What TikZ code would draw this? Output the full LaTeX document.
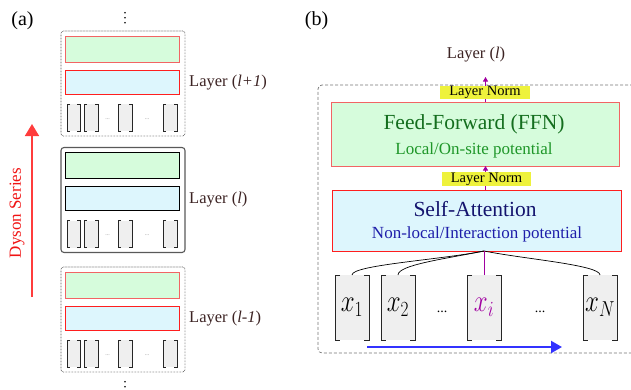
\documentclass[tikz,border=0pt]{standalone}
\usepackage{fontspec}
\setmainfont{Liberation Serif}
\usepackage{graphicx}
\usetikzlibrary{arrows.meta}
\definecolor{gfill}{RGB}{214,252,220}
\definecolor{bfill}{RGB}{221,246,253}
\definecolor{lred}{RGB}{242,100,100}
\definecolor{sred}{RGB}{255,30,30}
\definecolor{inputgrey}{RGB}{239,239,239}
\definecolor{lnyellow}{RGB}{238,242,60}
\definecolor{purp}{RGB}{160,0,160}
\definecolor{arrowblue}{RGB}{50,50,255}
\definecolor{dysonred}{RGB}{255,60,60}
\definecolor{dysontext}{RGB}{240,20,20}
\definecolor{labelcol}{RGB}{60,35,35}
\definecolor{ffngreen}{RGB}{20,110,30}
\definecolor{locgreen}{RGB}{30,150,40}
\definecolor{sanavy}{RGB}{20,20,110}
\definecolor{sablue}{RGB}{30,30,170}
\newcommand\fs[1]{\fontsize{#1}{#1}\selectfont}
\tikzset{
  box/.style={draw, outer sep=0pt, inner sep=0pt},
  brkbox/.style={fill=inputgrey, outer sep=0pt, inner sep=0pt},
  brkline/.style={black!85, line width=1pt},
  dotframe/.style={draw=black!65, dash pattern=on 0.6pt off 0.9pt, rounded corners=2.5pt, line width=0.8pt},
  solidframe/.style={draw=black!65, rounded corners=3pt, line width=1.1pt},
  lredborder/.style={draw=lred, line width=1pt},
  sredborder/.style={draw=sred, line width=0.9pt},
  blackborder/.style={draw=black, line width=0.9pt},
  labelA/.style={text=labelcol, font=\fs{16.5}, inner sep=0pt},
  dotsA/.style={text=black!45, font=\fs{6}, inner sep=0pt},
  parrow/.style={draw=purp, line width=0.9pt, -{Triangle[width=5pt,length=4.5pt]}},
  curveline/.style={draw=black, line width=0.7pt},
  lnbox/.style={fill=lnyellow, minimum height=13pt, inner sep=0pt, font=\fs{14.5}},
}
\newcommand\smallbrk[1]{%
  \draw[brkline] ([xshift=3pt]#1.north west) -- (#1.north west) -- (#1.south west) -- ([xshift=3pt]#1.south west);
  \draw[brkline] ([xshift=-3pt]#1.north east) -- (#1.north east) -- (#1.south east) -- ([xshift=-3pt]#1.south east);}
\newcommand\bigbrk[1]{%
  \draw[brkline] ([xshift=5pt]#1.north west) -- (#1.north west) -- (#1.south west) -- ([xshift=5pt]#1.south west);
  \draw[brkline] ([xshift=-5pt]#1.north east) -- (#1.north east) -- (#1.south east) -- ([xshift=-5pt]#1.south east);}
\newcommand\layerA[6]{%
  \begin{scope}[shift={(0,#1)}]
    \node[box,#2,minimum width=124pt,minimum height=105pt] (#5frame) at (123,52.5) {};
    \node[box,#3,fill=gfill,minimum width=114pt,minimum height=26pt] (#5ffn) at (122,18) {};
    \node[box,#4,fill=bfill,minimum width=114pt,minimum height=24pt] (#5sa) at (122,51) {};
    \node[brkbox,minimum width=13pt,minimum height=27pt] (#5ia) at (73.5,86.5) {};
    \node[brkbox,minimum width=14pt,minimum height=27pt] (#5ib) at (91,86.5) {};
    \node[brkbox,minimum width=14pt,minimum height=27pt] (#5ic) at (125,86.5) {};
    \node[brkbox,minimum width=14pt,minimum height=27pt] (#5id) at (170,86.5) {};
    \smallbrk{#5ia}\smallbrk{#5ib}\smallbrk{#5ic}\smallbrk{#5id}
    \node[dotsA] (#5da) at (107.5,88) {...};
    \node[dotsA] (#5db) at (147,88) {...};
    \node[labelA,anchor=west] (#5lab) at (189,52) {#6};
  \end{scope}}
\begin{document}
\begin{tikzpicture}[x=1pt,y=-1pt]
\useasboundingbox (0,0) rectangle (631,389);
% ---------- panel (a)
\node[font=\fs{20}, inner sep=0pt] (lbla) at (22.5,20.5) {(a)};
\foreach \yy in {12.7,17.7,22.7} \fill (125,\yy) circle (0.9);
\foreach \yy in {381.7,386.7,391.7} \fill (125,\yy) circle (0.9);
\layerA{31}{dotframe}{lredborder}{sredborder}{top}{Layer (\textit{l+1})}
\layerA{147.5}{solidframe}{blackborder}{blackborder}{mid}{Layer (\textit{l})}
\layerA{267}{dotframe}{lredborder}{sredborder}{bot}{Layer (\textit{l-1})}
\coordinate (dysonbot) at (32,297);
\coordinate (dysontop) at (32,124);
\draw[dysonred, line width=1.6pt, -{Triangle[width=14pt,length=12pt]}] (dysonbot) -- (dysontop);
\node[text=dysontext, font=\fs{17}, rotate=90, inner sep=0pt] (dyson) at (17,213) {Dyson Series};
% ---------- panel (b)
\node[font=\fs{20}, inner sep=0pt] (lblb) at (316.5,20.5) {(b)};
\node[labelA] (outlab) at (476,55) {Layer (\textit{l})};
\node[draw=black!55, dash pattern=on 3pt off 2pt, line width=0.7pt, rounded corners=4pt,
      minimum width=334pt, minimum height=268pt, outer sep=0pt] (frameb) at (485,219) {};
\node[box, draw=lred, line width=1pt, fill=gfill, minimum width=288pt, minimum height=64pt] (ffn) at (475,134) {};
\node[text=ffngreen, font=\fs{21.5}, anchor=base] (ffnt) at (474,129.5) {Feed-Forward (FFN)};
\node[text=locgreen, font=\fs{17}, anchor=base] (ffns) at (474,154) {Local/On-site potential};
\node[box, draw=sred, line width=1pt, fill=bfill, minimum width=289pt, minimum height=61pt] (sa) at (476.5,220.5) {};
\node[text=sanavy, font=\fs{21.5}, anchor=base] (sat) at (475,216.5) {Self-Attention};
\node[text=sablue, font=\fs{17}, anchor=base] (sas) at (477,238) {Non-local/Interaction potential};
\coordinate (outtip) at (485.5,77);
\draw[parrow] (ffn.north -| outtip) -- (outtip);
\draw[parrow] (sa.north -| outtip) -- (ffn.south -| outtip);
\node[lnbox, minimum width=90pt] (ln1) at (485,92.5) {Layer Norm};
\node[lnbox, minimum width=89pt, minimum height=14pt] (ln2) at (486.5,179) {Layer Norm};
% inputs
\node[brkbox, minimum width=34pt, minimum height=65pt] (x1) at (352,307.5) {\scalebox{1}[1.25]{\fs{23}$x_1$}};
\node[brkbox, minimum width=34pt, minimum height=65pt] (x2) at (398,307.5) {\scalebox{1}[1.25]{\fs{23}$x_2$}};
\node[brkbox, minimum width=34pt, minimum height=65pt] (xi) at (484,307.5) {\scalebox{1}[1.25]{\fs{23}\color{purp}$x_i$}};
\node[brkbox, minimum width=34pt, minimum height=65pt] (xN) at (600,307.5) {\scalebox{1}[1.25]{\fs{23}$x_N$}};
\bigbrk{x1}\bigbrk{x2}\bigbrk{xi}\bigbrk{xN}
\node[font=\fs{14}, anchor=base] (dd1) at (442,312) {...};
\node[font=\fs{14}, anchor=base] (dd2) at (540,312) {...};
\coordinate (hub) at (sa.south -| xi.north);
\draw[curveline] (x1.north) .. controls +(0,-10) and +(-45,9) .. (hub);
\draw[curveline] (x2.north) .. controls +(0,-10) and +(-40,8) .. (hub);
\draw[curveline] (xN.north) .. controls +(0,-10) and +(40,8) .. (hub);
\draw[draw=purp, line width=0.8pt] (xi.north) -- (hub);
\coordinate (bstart) at (367,347);
\coordinate (bend) at (562,347);
\draw[arrowblue, line width=2.2pt, -{Triangle[width=12pt,length=11pt]}] (bstart) -- (bend);
\end{tikzpicture}
\end{document}
